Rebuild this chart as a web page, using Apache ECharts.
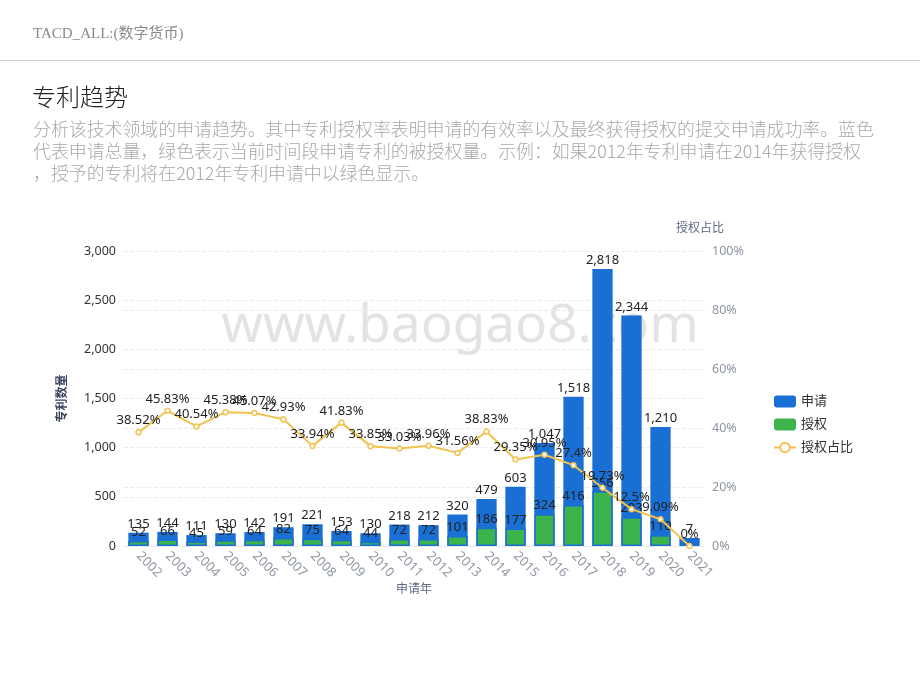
<!DOCTYPE html>
<html><head><meta charset="utf-8">
<script src="https://cdn.jsdelivr.net/npm/echarts@6/dist/echarts.min.js"></script>
<style>
html,body{margin:0;padding:0;background:#fff;width:920px;height:690px;overflow:hidden;font-family:"Noto Sans CJK SC","Noto Sans",sans-serif;}
#hdr{position:absolute;left:33px;top:21px;font-size:15px;color:#8a8a8a;font-family:"Liberation Serif","Noto Sans CJK SC",serif;}
#rule{position:absolute;left:0;top:60px;width:920px;height:1px;background:#cfcfcf;}
#ttl{position:absolute;left:32px;top:78px;font-size:24px;color:#222;font-weight:300;}
#desc{position:absolute;left:33px;top:117px;width:880px;font-size:17.9px;line-height:22px;color:#a8a8a8;font-weight:300;white-space:nowrap;}
#chart{position:absolute;left:0;top:0;width:920px;height:690px;}
</style></head>
<body>
<div id="chart"></div>
<div id="hdr">TACD_ALL:(数字货币)</div>
<div id="rule"></div>
<div id="ttl">专利趋势</div>
<div id="desc">分析该技术领域的申请趋势。其中专利授权率表明申请的有效率以及最终获得授权的提交申请成功率。蓝色<br>代表申请总量，绿色表示当前时间段申请专利的被授权量。示例：如果2012年专利申请在2014年获得授权<br>，授予的专利将在2012年专利申请中以绿色显示。</div>
<script>
const years = ['2002','2003','2004','2005','2006','2007','2008','2009','2010','2011','2012','2013','2014','2015','2016','2017','2018','2019','2020','2021'];
const applications = [135,144,111,130,142,191,221,153,130,218,212,320,479,603,1047,1518,2818,2344,1210,7];
const grants = [52,66,45,59,64,82,75,64,44,72,72,101,186,177,324,416,556,293,110,0];
const grantRatio = [38.52,45.83,40.54,45.38,45.07,42.93,33.94,41.83,33.85,33.03,33.96,31.56,38.83,29.35,30.95,27.4,19.73,12.5,9.09,0];
const leftTicks = {min:0,max:3000,interval:500};
const rightTicks = {min:0,max:100,interval:20};

const chart = echarts.init(document.getElementById('chart'));
const fmt = v => v.toLocaleString('en-US');
const lbl = {show:true,position:'top',color:'#222',fontSize:13,distance:2};
chart.setOption({
  animation:false,
  textStyle:{fontFamily:'"Noto Sans","Noto Sans CJK SC",sans-serif'},
  graphic:[{type:'text',left:'center',top:300,z:-1,style:{text:'www.baogao8.com',fontSize:53,fill:'#e3e3e3',fontFamily:'"Noto Sans",sans-serif'}}],
  grid:{left:124,right:216,top:251,bottom:144},
  legend:{orient:'vertical',left:768,top:390,itemGap:10,itemWidth:22,itemHeight:12,
    textStyle:{fontSize:13,color:'#333'},
    data:[{name:'申请',icon:'roundRect'},{name:'授权',icon:'roundRect',itemStyle:{borderWidth:0}},{name:'授权占比'}]},
  xAxis:{type:'category',data:years,name:'申请年',nameLocation:'middle',nameGap:38,
    nameTextStyle:{color:'#5d6b85',fontSize:12},
    axisLine:{lineStyle:{color:'#e3e6ea'}},axisTick:{show:false},
    axisLabel:{rotate:-45,color:'#8e95a3',fontSize:13,margin:8,interval:0}},
  yAxis:[
    {type:'value',min:leftTicks.min,max:leftTicks.max,interval:leftTicks.interval,
     name:'专利数量',nameLocation:'middle',nameGap:55,nameRotate:90,
     nameTextStyle:{color:'#3a4660',fontSize:12,fontWeight:'bold'},
     axisLabel:{color:'#333',fontSize:12.5,formatter:v=>fmt(v)},
     splitLine:{lineStyle:{type:'dashed',color:'#ebebeb'}},axisLine:{show:false},axisTick:{show:false}},
    {type:'value',min:rightTicks.min,max:rightTicks.max,interval:rightTicks.interval,
     name:'授权占比',nameGap:16,nameTextStyle:{color:'#5d6b85',fontSize:12,align:'center',padding:[0,0,0,-8]},
     axisLabel:{color:'#8e95a3',fontSize:12.5,formatter:'{value}%',margin:8},
     splitLine:{lineStyle:{type:'dashed',color:'#ebebeb'}},axisLine:{show:false},axisTick:{show:false}}
  ],
  series:[
    {name:'申请',type:'bar',data:applications,barWidth:'70%',barMinHeight:8,itemStyle:{color:'#1a6fd4'},
     label:Object.assign({},lbl,{formatter:p=>fmt(p.value)})},
    {name:'授权',type:'bar',data:grants.map(v=>v||null),barWidth:'70%',barGap:'-100%',
     itemStyle:{color:'#3cb44b',borderColor:'#1a6fd4',borderWidth:1.5},
     label:Object.assign({},lbl,{formatter:p=>p.value?fmt(p.value):''})},
    {name:'授权占比',type:'line',yAxisIndex:1,data:grantRatio,z:5,
     symbol:'circle',symbolSize:5,lineStyle:{color:'#f2c14e',width:2},
     itemStyle:{color:'#fff',borderColor:'#f2c14e',borderWidth:1.5},
     label:Object.assign({},lbl,{formatter:p=>p.value+'%'})}
  ]
});
</script>
</body></html>
